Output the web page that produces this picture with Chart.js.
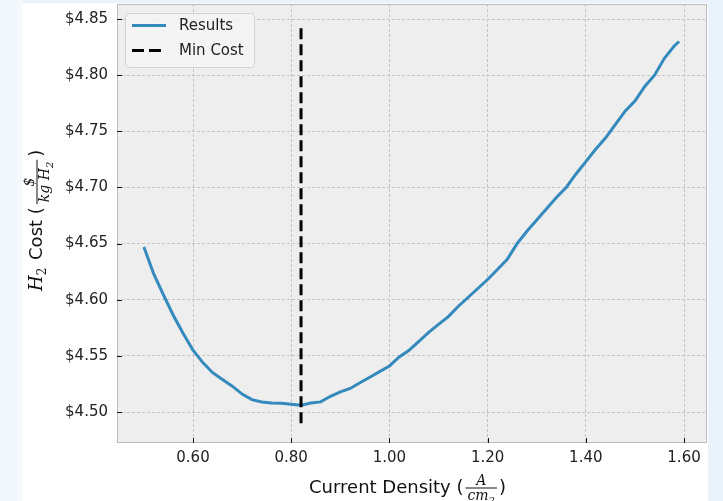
<!DOCTYPE html>
<html>
<head>
<meta charset="utf-8">
<script src="https://cdn.jsdelivr.net/npm/chart.js@4.4.0/dist/chart.umd.min.js"></script>
<style>
  html, body { margin: 0; padding: 0; background: #eaf3fb; }
  #costChart { display: block; }
</style>
</head>
<body>
<canvas id="costChart" width="723" height="501"></canvas>
<script>
// current density (A/cm2) and H2 cost ($/kg H2)
const currentDensity = [0.50, 0.52, 0.54, 0.56, 0.58, 0.60, 0.62, 0.64, 0.66, 0.68,
  0.70, 0.72, 0.74, 0.76, 0.78, 0.80, 0.82, 0.84, 0.86, 0.88,
  0.90, 0.92, 0.94, 0.96, 0.98, 1.00, 1.02, 1.04, 1.06, 1.08,
  1.10, 1.12, 1.14, 1.16, 1.18, 1.20, 1.22, 1.24, 1.26, 1.28,
  1.30, 1.32, 1.34, 1.36, 1.38, 1.40, 1.42, 1.44, 1.46, 1.48,
  1.50, 1.52, 1.54, 1.56, 1.58, 1.59];
const h2Cost = [4.647, 4.623, 4.604, 4.586, 4.570, 4.555, 4.544, 4.535, 4.529, 4.523,
  4.516, 4.511, 4.509, 4.508, 4.5077, 4.507, 4.506, 4.508, 4.509, 4.514,
  4.518, 4.521, 4.526, 4.531, 4.536, 4.541, 4.549, 4.555, 4.563, 4.571,
  4.578, 4.585, 4.594, 4.602, 4.610, 4.618, 4.627, 4.636, 4.650, 4.661,
  4.671, 4.681, 4.691, 4.700, 4.712, 4.723, 4.734, 4.744, 4.756, 4.768,
  4.777, 4.790, 4.800, 4.815, 4.826, 4.830];

const minCostX = 0.82;
const minCostSpan = [4.49, 4.845];

const xTicks = [0.60, 0.80, 1.00, 1.20, 1.40, 1.60];
const yTicks = [4.50, 4.55, 4.60, 4.65, 4.70, 4.75, 4.80, 4.85];
const legendLabels = ['Results', 'Min Cost'];

const sans = '"DejaVu Sans", sans-serif';
const serif = '"DejaVu Serif", serif';

// draws a small math fraction, returns its width
function fraction(ctx, x, baseY, num, den, size) {
  ctx.save();
  const nw = num.reduce((w, p) => w + partWidth(ctx, p, size), 0);
  const dw = den.reduce((w, p) => w + partWidth(ctx, p, size), 0);
  const w = Math.max(nw, dw) + 4;
  const barY = baseY - 5;
  ctx.strokeStyle = '#111';
  ctx.lineWidth = 1;
  ctx.beginPath();
  ctx.moveTo(x, barY);
  ctx.lineTo(x + w, barY);
  ctx.stroke();
  drawParts(ctx, x + (w - nw) / 2, barY - 3, num, size);
  drawParts(ctx, x + (w - dw) / 2, barY + size * 0.85, den, size);
  ctx.restore();
  return w;
}
function partWidth(ctx, p, size) {
  ctx.font = 'italic ' + (p.sub ? Math.round(size * 0.7) : size) + 'px ' + serif;
  return ctx.measureText(p.t).width;
}
function drawParts(ctx, x, y, parts, size) {
  parts.forEach(p => {
    const s = p.sub ? Math.round(size * 0.7) : size;
    ctx.font = 'italic ' + s + 'px ' + serif;
    ctx.fillText(p.t, x, y + (p.sub ? size * 0.3 : 0));
    x += ctx.measureText(p.t).width;
  });
}

const decor = {
  id: 'decor',
  beforeDraw(chart) {
    const { ctx, chartArea: a } = chart;
    ctx.save();
    ctx.fillStyle = '#f3f8fc';
    ctx.fillRect(0, 0, 22, chart.height);
    ctx.fillStyle = '#ffffff';
    ctx.fillRect(22, 3, 686, chart.height - 3);
    ctx.fillStyle = '#eeeeee';
    ctx.fillRect(a.left, a.top, a.right - a.left, a.bottom - a.top);
    ctx.restore();
  },
  afterDraw(chart) {
    const { ctx, chartArea: a, scales } = chart;
    ctx.save();
    // frame
    ctx.strokeStyle = '#bcbcbc';
    ctx.lineWidth = 1;
    ctx.strokeRect(a.left + 0.5, a.top + 0.5, a.right - a.left - 1, a.bottom - a.top - 1);
    // inward ticks
    ctx.strokeStyle = '#111';
    ctx.beginPath();
    yTicks.forEach(v => {
      const y = Math.round(scales.y.getPixelForValue(v)) + 0.5;
      ctx.moveTo(a.left, y);
      ctx.lineTo(a.left + 5, y);
    });
    xTicks.forEach(v => {
      const x = Math.round(scales.x.getPixelForValue(v)) + 0.5;
      ctx.moveTo(x, a.bottom);
      ctx.lineTo(x, a.bottom - 5);
    });
    ctx.stroke();

    // legend
    const lx = 125, ly = 13, lw = 129, lh = 54;
    ctx.fillStyle = 'rgba(244,244,244,0.85)';
    ctx.strokeStyle = '#d2d2d2';
    ctx.beginPath();
    ctx.roundRect(lx + 0.5, ly + 0.5, lw, lh, 4);
    ctx.fill();
    ctx.stroke();
    ctx.lineWidth = 3;
    ctx.strokeStyle = '#348ABD';
    ctx.beginPath();
    ctx.moveTo(132, 25.5);
    ctx.lineTo(166, 25.5);
    ctx.stroke();
    ctx.strokeStyle = '#000';
    ctx.setLineDash([12, 5]);
    ctx.beginPath();
    ctx.moveTo(132, 50.5);
    ctx.lineTo(166, 50.5);
    ctx.stroke();
    ctx.setLineDash([]);
    ctx.fillStyle = '#222';
    ctx.font = '15px ' + sans;
    ctx.textBaseline = 'middle';
    ctx.fillText(legendLabels[0], 179, 26);
    ctx.fillText(legendLabels[1], 179, 51);

    // x axis title
    ctx.textBaseline = 'alphabetic';
    ctx.fillStyle = '#111';
    ctx.font = '18px ' + sans;
    let x = 309;
    const baseX = 493;
    ctx.fillText('Current Density (', x, baseX);
    x += ctx.measureText('Current Density (').width + 2;
    x += fraction(ctx, x, baseX, [{ t: 'A' }], [{ t: 'cm' }, { t: '2', sub: true }], 14) + 2;
    ctx.font = '18px ' + sans;
    ctx.fillText(')', x, baseX);

    // y axis title, rotated
    ctx.translate(42, 291);
    ctx.rotate(-Math.PI / 2);
    ctx.font = 'italic 18px ' + serif;
    let t = 0;
    ctx.fillText('H', t, 0);
    t += ctx.measureText('H').width;
    ctx.font = '12px ' + serif;
    ctx.fillText('2', t, 4);
    t += ctx.measureText('2').width + 2;
    ctx.font = '18px ' + sans;
    ctx.fillText(' Cost (', t, 0);
    t += ctx.measureText(' Cost (').width + 3;
    t += fraction(ctx, t, 0, [{ t: '$' }], [{ t: 'kg H' }, { t: '2', sub: true }], 14) + 3;
    ctx.font = '18px ' + sans;
    ctx.fillText(')', t, 0);
    ctx.restore();
  }
};

const ctx = document.getElementById('costChart');

new Chart(ctx, {
  type: 'line',
  data: {
    datasets: [{
      label: legendLabels[0],
      data: currentDensity.map((v, i) => ({ x: v, y: h2Cost[i] })),
      borderColor: '#348ABD',
      borderWidth: 3,
      pointRadius: 0,
      tension: 0,
      order: 1
    }, {
      label: legendLabels[1],
      data: minCostSpan.map(v => ({ x: minCostX, y: v })),
      borderColor: '#000000',
      borderWidth: 3,
      borderDash: [11, 5],
      pointRadius: 0,
      order: 0
    }]
  },
  options: {
    responsive: false,
    devicePixelRatio: 1,
    animation: false,
    layout: { padding: { left: 0, right: 16, top: 4, bottom: 0 } },
    scales: {
      x: {
        type: 'linear',
        min: 0.4452,
        max: 1.6468,
        afterBuildTicks: s => { s.ticks = xTicks.map(v => ({ value: v })); },
        afterFit: s => { s.height = 58; s.paddingLeft = 0; s.paddingRight = 0; },
        ticks: {
          callback: v => Number(v).toFixed(2),
          font: { family: sans, size: 15 },
          color: '#222',
          padding: 6,
          maxRotation: 0
        },
        grid: { color: '#c4c4c4', lineWidth: 1, drawTicks: false },
        border: { display: false, dash: [3, 2] }
      },
      y: {
        min: 4.4724,
        max: 4.8634,
        afterBuildTicks: s => { s.ticks = yTicks.map(v => ({ value: v })); },
        afterFit: s => { s.width = 117; s.paddingTop = 0; s.paddingBottom = 0; },
        ticks: {
          callback: v => '$' + Number(v).toFixed(2),
          font: { family: sans, size: 15 },
          color: '#222',
          padding: 9
        },
        grid: { color: '#c4c4c4', lineWidth: 1, drawTicks: false },
        border: { display: false, dash: [3, 2] }
      }
    },
    plugins: {
      legend: { display: false },
      tooltip: { enabled: false }
    }
  },
  plugins: [decor]
});
</script>
</body>
</html>
